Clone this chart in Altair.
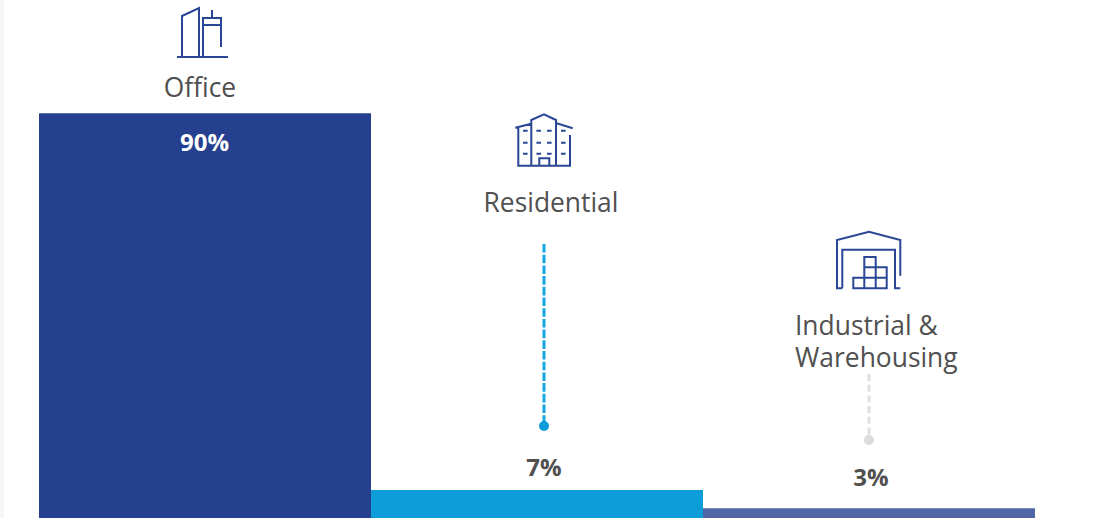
import altair as alt
import pandas as pd

categories = ["Office", "Residential", "Industrial & Warehousing"]
shares = [90, 7, 3]
share_labels = ["90%", "7%", "3%"]
bar_colors = ["#24408e", "#0d9ed9", "#5166a6"]

INK = "#505050"
ICON = "#2a4694"
FONT = "Open Sans"

# Icon outlines, in pixels around each icon's anchor (a symbol of size 4 draws 1:1)
office_icon = (
    "M-25,25H26 M-20,25V-16L-3,-24V25 M1,25V-14H19V15 M1,-7H19 M10,-14V-22"
)
residential_icon = (
    "M-29.7,-12.3L-13.7,-16.3 M-13.7,25.7V-20L-1,-25.7L11,-20V25.7 "
    "M11.7,-16.7L27.7,-11.7 M-26.7,-12V25.7H25V-5 M-5.7,25.7V18.3H4.3V25.7 "
    "M-22,-9.3h4.6 M-8.6,-9.3h4.6 M2,-9.3h4.6 M16,-9.3h4.6 "
    "M-22,2.7h4.6 M-8.6,2.7h4.6 M2,2.7h4.6 M16,2.7h4.6 "
    "M-22,13.7h4.6 M-8.6,13.7h4.6 M2,13.7h4.6 M16,13.7h4.6"
)
warehouse_icon = (
    "M-25.7,28.3H-31V-20L1,-28.3L32.3,-20V15.7 M-25.7,28.3V-10.3H27V28.3H32.3 "
    "M-14.7,17.7H18.7V28.3H-14.7Z M-3.7,-3H7.7V28.3H-3.7Z "
    "M-3.7,7.3H18.7V17.7"
)

bars = pd.DataFrame({"category": categories, "share": shares, "color": bar_colors})

# The value axis starts just above zero so the bars run off the bottom edge
y_scale = alt.Scale(domain=[0.84, 114.94], clamp=False, nice=False, zero=False)
x_scale = alt.Scale(domain=categories, range=[39, 1035], paddingInner=0, paddingOuter=0)

bar_layer = (
    alt.Chart(bars)
    .mark_bar(clip=True, size=332)
    .encode(
        x=alt.X("category:N", scale=x_scale, axis=None, sort=categories),
        y=alt.Y("share:Q", scale=y_scale, axis=None),
        y2=alt.datum(0.84),
        color=alt.Color("color:N", scale=None, legend=None),
    )
)


def label(text, x, y, size=26.4, weight="normal", color=INK, align="center"):
    return (
        alt.Chart(pd.DataFrame({"t": [text]}))
        .mark_text(
            font=FONT, fontSize=size, fontWeight=weight, color=color,
            align=align, baseline="alphabetic",
        )
        .encode(x=alt.value(x), y=alt.value(y), text="t:N")
    )


def icon(path, x, y):
    return (
        alt.Chart(pd.DataFrame({"i": [0]}))
        .mark_point(shape=path, size=4, filled=False, stroke=ICON, strokeWidth=2, opacity=1)
        .encode(x=alt.value(x), y=alt.value(y))
    )


def leader(x, y1, y2, color, dot_color, dash):
    anchor = alt.Chart(pd.DataFrame({"i": [0]}))
    line = anchor.mark_rule(color=color, strokeWidth=3, strokeDash=dash).encode(
        x=alt.value(x), y=alt.value(y1), y2=alt.value(y2)
    )
    dot = anchor.mark_circle(color=dot_color, size=100, opacity=1).encode(
        x=alt.value(x), y=alt.value(y2)
    )
    return line + dot


def band(x1, x2, y1, y2, color):
    return (
        alt.Chart(pd.DataFrame({"i": [0]}))
        .mark_rect(color=color)
        .encode(x=alt.value(x1), x2=alt.value(x2), y=alt.value(y1), y2=alt.value(y2))
    )


chart = alt.layer(
    band(0, 4, 0, 518, "#f6f6f6"),
    bar_layer,
    icon(office_icon, 202, 32),
    icon(residential_icon, 545, 140),
    icon(warehouse_icon, 868, 260),
    label("Office", 200, 96.6),
    label("Residential", 551, 211.6),
    label("Industrial &", 795, 334.6, align="left"),
    label("Warehousing", 795, 366.6, align="left"),
    leader(544, 244, 426, "#14a5e4", "#0d9ed9", [8.6, 2.1]),
    leader(869, 374, 440, "#e0e0e0", "#dcdcdc", [7, 3.7]),
    label(share_labels[0], 204.5, 151, size=24, weight="bold", color="white"),
    label(share_labels[1], 544, 476, size=24, weight="bold"),
    label(share_labels[2], 871, 486, size=24, weight="bold"),
    band(4, 1099, 0, 2, "white"),
).properties(
    width=1099,
    height=518,
    padding=0,
    autosize=alt.AutoSizeParams(type="none"),
).configure_view(stroke=None).configure(background="white")

chart.save("out.html", embed_options={"renderer": "svg", "actions": False})
